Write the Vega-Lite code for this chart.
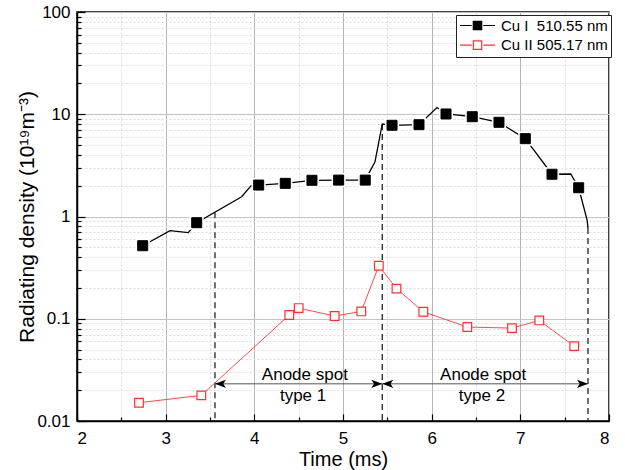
{
  "$schema": "https://vega.github.io/schema/vega-lite/v6.json",
  "width": 532,
  "height": 409,
  "autosize": {"type": "none"},
  "padding": {"left": 77, "top": 12, "right": 16, "bottom": 49},
  "background": "white",
  "config": {
    "view": {"stroke": "black", "strokeWidth": 1.5},
    "font": "Liberation Sans",
    "axis": {
      "labelFont": "Liberation Sans", "labelFontSize": 17, "labelColor": "black",
      "titleFont": "Liberation Sans", "titleFontSize": 21, "titleFontWeight": "normal", "titleColor": "black",
      "domainColor": "black", "domainWidth": 1.5, "tickColor": "black", "tickWidth": 1.2,
      "grid": true
    },
    "legend": {
      "labelFont": "Liberation Sans", "labelFontSize": 15, "labelColor": "black"
    }
  },
  "datasets": {
    "pts": [
      {"series": "Cu I\u00a0 510.55 nm", "t": 2.741, "n": 0.518},
      {"series": "Cu I\u00a0 510.55 nm", "t": 3.350, "n": 0.87},
      {"series": "Cu I\u00a0 510.55 nm", "t": 4.049, "n": 2.03},
      {"series": "Cu I\u00a0 510.55 nm", "t": 4.349, "n": 2.11},
      {"series": "Cu I\u00a0 510.55 nm", "t": 4.650, "n": 2.26},
      {"series": "Cu I\u00a0 510.55 nm", "t": 4.951, "n": 2.27},
      {"series": "Cu I\u00a0 510.55 nm", "t": 5.251, "n": 2.27},
      {"series": "Cu I\u00a0 510.55 nm", "t": 5.553, "n": 7.8},
      {"series": "Cu I\u00a0 510.55 nm", "t": 5.857, "n": 7.9},
      {"series": "Cu I\u00a0 510.55 nm", "t": 6.162, "n": 10.06},
      {"series": "Cu I\u00a0 510.55 nm", "t": 6.458, "n": 9.46},
      {"series": "Cu I\u00a0 510.55 nm", "t": 6.759, "n": 8.34},
      {"series": "Cu I\u00a0 510.55 nm", "t": 7.056, "n": 5.77},
      {"series": "Cu I\u00a0 510.55 nm", "t": 7.357, "n": 2.59},
      {"series": "Cu I\u00a0 510.55 nm", "t": 7.658, "n": 1.91},
      {"series": "Cu II 505.17 nm", "t": 2.699, "n": 0.0151},
      {"series": "Cu II 505.17 nm", "t": 3.402, "n": 0.0178},
      {"series": "Cu II 505.17 nm", "t": 4.394, "n": 0.1087},
      {"series": "Cu II 505.17 nm", "t": 4.500, "n": 0.1272},
      {"series": "Cu II 505.17 nm", "t": 4.906, "n": 0.1063},
      {"series": "Cu II 505.17 nm", "t": 5.206, "n": 0.1179},
      {"series": "Cu II 505.17 nm", "t": 5.404, "n": 0.33},
      {"series": "Cu II 505.17 nm", "t": 5.603, "n": 0.197},
      {"series": "Cu II 505.17 nm", "t": 5.906, "n": 0.117},
      {"series": "Cu II 505.17 nm", "t": 6.402, "n": 0.083},
      {"series": "Cu II 505.17 nm", "t": 6.906, "n": 0.081},
      {"series": "Cu II 505.17 nm", "t": 7.214, "n": 0.0963},
      {"series": "Cu II 505.17 nm", "t": 7.608, "n": 0.054}
    ],
    "cu1line": [
      {"i": 1, "t": 2.741, "n": 0.518},
      {"i": 2, "t": 3.049, "n": 0.726},
      {"i": 3, "t": 3.255, "n": 0.695},
      {"i": 4, "t": 3.350, "n": 0.87},
      {"i": 5, "t": 3.857, "n": 1.562},
      {"i": 6, "t": 3.962, "n": 1.99},
      {"i": 7, "t": 4.049, "n": 2.03},
      {"i": 8, "t": 4.349, "n": 2.11},
      {"i": 9, "t": 4.650, "n": 2.26},
      {"i": 10, "t": 4.951, "n": 2.27},
      {"i": 11, "t": 5.251, "n": 2.27},
      {"i": 12, "t": 5.361, "n": 3.436},
      {"i": 13, "t": 5.443, "n": 8.03},
      {"i": 14, "t": 5.553, "n": 7.8},
      {"i": 15, "t": 5.857, "n": 7.9},
      {"i": 16, "t": 6.060, "n": 11.64},
      {"i": 17, "t": 6.162, "n": 10.06},
      {"i": 18, "t": 6.458, "n": 9.46},
      {"i": 19, "t": 6.759, "n": 8.34},
      {"i": 20, "t": 7.056, "n": 5.77},
      {"i": 21, "t": 7.357, "n": 2.59},
      {"i": 22, "t": 7.568, "n": 2.604},
      {"i": 23, "t": 7.658, "n": 1.91},
      {"i": 24, "t": 7.753, "n": 0.924},
      {"i": 25, "t": 7.763, "n": 0.77}
    ],
    "dashed": [
      {"t": 3.556, "top": 1.1, "bottom": 0.01},
      {"t": 5.443, "top": 8.03, "bottom": 0.01},
      {"t": 7.763, "top": 0.77, "bottom": 0.01}
    ],
    "arrows": [
      {"x1": 3.556, "x2": 5.443, "y": 0.0231},
      {"x1": 5.443, "x2": 7.763, "y": 0.0231}
    ],
    "notes": [
      {"t": 4.57, "n": 0.0283, "label": "Anode spot"},
      {"t": 4.55, "n": 0.01766, "label": "type 1"},
      {"t": 6.58, "n": 0.0283, "label": "Anode spot"},
      {"t": 6.567, "n": 0.01766, "label": "type 2"}
    ]
  },
  "encoding": {
    "x": {
      "field": "t", "type": "quantitative",
      "scale": {"domain": [2, 8], "nice": false, "zero": false},
      "axis": {
        "title": "Time (ms)",
        "titleFontSize": 20,
        "values": [2, 2.5, 3, 3.5, 4, 4.5, 5, 5.5, 6, 6.5, 7, 7.5, 8],
        "labelExpr": "datum.value % 1 == 0 ? format(datum.value, 'd') : ''",
        "tickSize": {"condition": {"test": "datum.value % 1 != 0", "value": -4}, "value": -7},
        "gridDash": {"condition": {"test": "datum.value % 1 != 0", "value": [2, 2]}, "value": []},
        "gridColor": {"condition": {"test": "datum.value % 1 != 0", "value": "#dcdcdc"}, "value": "#b4b4b4"},
        "labelPadding": 16,
        "titlePadding": 3
      }
    },
    "y": {
      "field": "n", "type": "quantitative",
      "scale": {"type": "log", "domain": [0.01, 100], "nice": false},
      "axis": {
        "title": "Radiating density (10¹⁹m⁻³)",
        "values": [0.01,0.02,0.03,0.04,0.05,0.06,0.07,0.08,0.09,0.1,0.2,0.3,0.4,0.5,0.6,0.7,0.8,0.9,1,2,3,4,5,6,7,8,9,10,20,30,40,50,60,70,80,90,100],
        "labelExpr": "abs(log(datum.value)/LN10 - round(log(datum.value)/LN10)) < 0.001 ? (datum.value >= 1 ? format(datum.value, 'd') : format(datum.value, '.2~f')) : ''",
        "tickSize": {"condition": {"test": "abs(log(datum.value)/LN10 - round(log(datum.value)/LN10)) > 0.001", "value": -4}, "value": -8},
        "gridDash": {"condition": {"test": "abs(log(datum.value)/LN10 - round(log(datum.value)/LN10)) > 0.001", "value": [2, 2]}, "value": []},
        "gridColor": {"condition": {"test": "abs(log(datum.value)/LN10 - round(log(datum.value)/LN10)) > 0.001", "value": "#dcdcdc"}, "value": "#c4c4c4"},
        "labelPadding": 15,
        "titlePadding": -1
      }
    }
  },
  "layer": [
    {
      "data": {"name": "dashed"},
      "mark": {"type": "rule", "color": "#333333", "strokeWidth": 1.4, "strokeDash": [6, 4]},
      "encoding": {"y": {"field": "top", "type": "quantitative"}, "y2": {"field": "bottom"}}
    },
    {
      "data": {"name": "arrows"},
      "mark": {"type": "rule", "color": "#555555", "strokeWidth": 1},
      "encoding": {"x": {"field": "x1", "type": "quantitative"}, "x2": {"field": "x2"}, "y": {"field": "y", "type": "quantitative"}}
    },
    {
      "data": {"name": "arrows"},
      "mark": {"type": "point", "shape": "M0,0L2,-0.75L1.5,0L2,0.75Z", "size": 121, "filled": true, "color": "black", "opacity": 1},
      "encoding": {"x": {"field": "x1", "type": "quantitative"}, "y": {"field": "y", "type": "quantitative"}}
    },
    {
      "data": {"name": "arrows"},
      "mark": {"type": "point", "shape": "M0,0L-2,-0.75L-1.5,0L-2,0.75Z", "size": 121, "filled": true, "color": "black", "opacity": 1},
      "encoding": {"x": {"field": "x2", "type": "quantitative"}, "y": {"field": "y", "type": "quantitative"}}
    },
    {
      "data": {"name": "notes"},
      "mark": {"type": "text", "font": "Liberation Sans", "fontSize": 17, "color": "black", "align": "center", "baseline": "middle"},
      "encoding": {"text": {"field": "label"}}
    },
    {
      "data": {"name": "cu1line"},
      "mark": {"type": "line", "color": "black", "strokeWidth": 1.3},
      "encoding": {"order": {"field": "i"}}
    },
    {
      "data": {"name": "pts"},
      "transform": [{"filter": "datum.series == 'Cu II 505.17 nm'"}],
      "mark": {"type": "line", "color": "#ff4a4a", "strokeWidth": 1},
      "encoding": {}
    },
    {
      "data": {"name": "pts"},
      "transform": [{"filter": "datum.series != 'Cu II 505.17 nm'"}],
      "mark": {"type": "point", "shape": "square", "size": 200, "filled": true, "color": "white", "opacity": 1, "strokeWidth": 0},
      "encoding": {}
    },
    {
      "data": {"name": "pts"},
      "transform": [{"filter": "datum.series != 'Cu II 505.17 nm'"}],
      "mark": {"type": "point", "shape": "square", "size": 100, "opacity": 1, "strokeWidth": 1},
      "encoding": {
        "stroke": {"field": "series", "type": "nominal", "scale": {"domain": ["Cu I\u00a0 510.55 nm", "Cu II 505.17 nm"], "range": ["#000000", "#ff3030"]},
          "legend": {"title": null, "orient": "none", "legendX": 379, "legendY": 3, "padding": 3, "strokeColor": "#222222", "fillColor": "white",
            "symbolType": "M-1,0H-0.33M0.33,0H1M-0.24,-0.24H0.24V0.24H-0.24Z", "symbolSize": 1225, "symbolStrokeWidth": 1.2, "labelOffset": 5, "clipHeight": 15, "rowPadding": 3.6}},
        "fill": {"field": "series", "type": "nominal", "scale": {"domain": ["Cu I\u00a0 510.55 nm", "Cu II 505.17 nm"], "range": ["#000000", "#ffffff"]},
          "legend": {"title": null, "orient": "none", "legendX": 379, "legendY": 3, "padding": 3, "strokeColor": "#222222", "fillColor": "white",
            "symbolType": "M-1,0H-0.33M0.33,0H1M-0.24,-0.24H0.24V0.24H-0.24Z", "symbolSize": 1225, "symbolStrokeWidth": 1.2, "labelOffset": 5, "clipHeight": 15, "rowPadding": 3.6}}
      }
    },
    {
      "data": {"name": "pts"},
      "transform": [{"filter": "datum.series == 'Cu II 505.17 nm'"}],
      "mark": {"type": "point", "shape": "square", "size": 75, "opacity": 1, "strokeWidth": 1.2},
      "encoding": {
        "stroke": {"field": "series", "type": "nominal"},
        "fill": {"field": "series", "type": "nominal"}
      }
    }
  ]
}
